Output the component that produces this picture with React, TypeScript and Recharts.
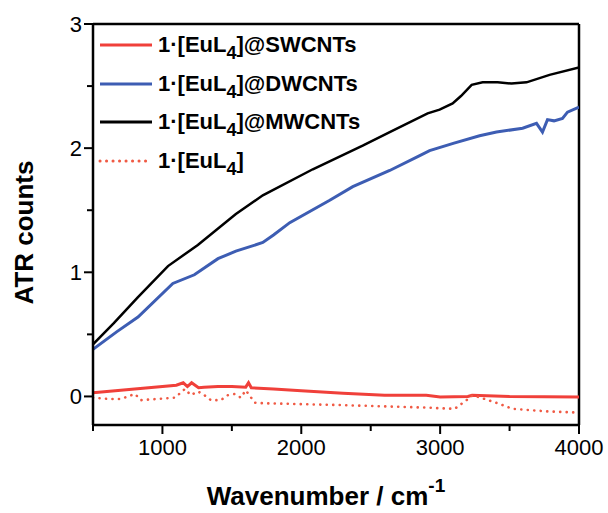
import { LineChart, Line, XAxis, YAxis, Legend, ReferenceLine } from "recharts"

// wavenumbers (cm-1) and ATR counts, one pair of arrays per sample
const mwX = [500, 650, 824, 1040, 1255, 1529, 1723, 2083, 2442, 2637, 2910, 2996, 3090, 3150, 3227, 3306, 3414, 3514, 3622, 3788, 4000]
const mwY = [0.42, 0.59, 0.8, 1.05, 1.22, 1.47, 1.62, 1.83, 2.02, 2.13, 2.28, 2.31, 2.36, 2.42, 2.51, 2.53, 2.53, 2.52, 2.53, 2.59, 2.65]

const dwX = [500, 670, 824, 1075, 1230, 1400, 1529, 1723, 1800, 1917, 2205, 2371, 2637, 2853, 2924, 3100, 3284, 3406, 3594, 3694, 3737, 3773, 3820, 3881, 3917, 4000]
const dwY = [0.38, 0.52, 0.64, 0.91, 0.98, 1.11, 1.17, 1.24, 1.3, 1.4, 1.58, 1.69, 1.82, 1.94, 1.98, 2.04, 2.1, 2.13, 2.16, 2.2, 2.13, 2.23, 2.22, 2.24, 2.29, 2.33]

const swX = [500, 800, 1100, 1150, 1180, 1210, 1260, 1300, 1400, 1500, 1600, 1620, 1640, 1800, 2000, 2300, 2600, 2900, 3000, 3200, 3230, 3500, 4000]
const swY = [0.03, 0.06, 0.09, 0.11, 0.08, 0.11, 0.07, 0.075, 0.08, 0.08, 0.075, 0.11, 0.07, 0.06, 0.045, 0.025, 0.01, 0.01, -0.005, 0.0, 0.01, 0.0, -0.005]

const euX = [500, 608, 701, 802, 845, 1090, 1162, 1205, 1255, 1291, 1349, 1420, 1471, 1522, 1565, 1600, 1665, 1737, 2300, 2900, 3104, 3190, 3234, 3320, 3428, 3522, 3766, 4000]
const euY = [-0.01, -0.02, -0.02, 0.02, -0.03, -0.01, 0.06, 0.01, 0.04, 0.02, -0.03, -0.03, 0.01, 0.02, -0.01, 0.05, -0.05, -0.055, -0.07, -0.09, -0.1, -0.03, 0.01, -0.02, -0.06, -0.1, -0.12, -0.13]

const xTicks = [500, 1000, 1500, 2000, 2500, 3000, 3500, 4000]
const yTicks = [0, 0.5, 1, 1.5, 2, 2.5, 3]

const toRows = (xs: number[], ys: number[]) => xs.map((x, i) => ({ x, y: ys[i] }))

const RED = "#f0403a"
const BLUE = "#3d5db3"
const FONT = "'Liberation Sans', Arial, sans-serif"

const series = [
  { name: "SWCNTs", label: "@SWCNTs", data: toRows(swX, swY), color: RED, width: 3, dash: undefined },
  { name: "DWCNTs", label: "@DWCNTs", data: toRows(dwX, dwY), color: BLUE, width: 3, dash: undefined },
  { name: "MWCNTs", label: "@MWCNTs", data: toRows(mwX, mwY), color: "#000", width: 2.5, dash: undefined },
  { name: "EuL4", label: "", data: toRows(euX, euY), color: "#f05a44", width: 2.6, dash: "0.1 6.4" },
]

const XTick = ({ x, y, payload }: any) => {
  const v = payload.value
  const major = v % 1000 === 0
  const top = y - 11
  return (
    <g>
      <line x1={x} x2={x} y1={top} y2={top + (major ? 9 : 6)} stroke="#000" strokeWidth={2} />
      {major && v !== 500 && (
        <text x={x} y={y + 19} textAnchor="middle" fontSize={22} fontFamily={FONT} fill="#000">
          {v}
        </text>
      )}
    </g>
  )
}

const YTick = ({ x, y, payload }: any) => {
  const v = payload.value
  const major = Number.isInteger(v)
  const right = x + 11
  return (
    <g>
      <line x1={right - (major ? 9 : 6)} x2={right} y1={y} y2={y} stroke="#000" strokeWidth={2} />
      {major && (
        <text x={x} y={y + 8} textAnchor="end" fontSize={22} fontFamily={FONT} fill="#000">
          {v}
        </text>
      )}
    </g>
  )
}

const LegendBox = () => (
  <div style={{ fontFamily: FONT, fontWeight: "bold", fontSize: 22, color: "#000" }}>
    {series.map((s) => (
      <div key={s.name} style={{ display: "flex", alignItems: "center", height: 38.5, whiteSpace: "nowrap" }}>
        <svg width={56} height={10} style={{ marginRight: 4 }}>
          <line
            x1={2}
            x2={54}
            y1={5}
            y2={5}
            stroke={s.color}
            strokeWidth={3}
            strokeDasharray={s.dash}
            strokeLinecap={s.dash ? "round" : "butt"}
          />
        </svg>
        <span>
          1·[EuL<span style={{ fontSize: 18, position: "relative", top: 7 }}>4</span>]{s.label}
        </span>
      </div>
    ))}
  </div>
)

const YLabel = ({ viewBox }: any) => {
  const cx = viewBox.x + 33
  const cy = viewBox.y + viewBox.height / 2 + 8
  return (
    <text x={cx} y={cy} transform={`rotate(-90 ${cx} ${cy})`} textAnchor="middle" fontSize={26} fontWeight="bold" fontFamily={FONT} fill="#000">
      ATR counts
    </text>
  )
}

const XLabel = ({ viewBox }: any) => (
  <text x={viewBox.x + viewBox.width / 2 - 10} y={viewBox.y + 80} textAnchor="middle" fontSize={26} fontWeight="bold" fontFamily={FONT} fill="#000">
    Wavenumber / cm
    <tspan fontSize={19} dy={-13}>-1</tspan>
  </text>
)

export default function App() {
  return (
    <div style={{ position: "absolute", left: 0, top: 0, background: "#fff" }}>
      <LineChart width={608} height={513} margin={{ top: 24, right: 29, left: 0, bottom: 0 }}>
        <XAxis
          type="number"
          dataKey="x"
          domain={[500, 4000]}
          ticks={xTicks}
          allowDataOverflow
          height={88}
          tickSize={9}
          tickMargin={2}
          tickLine={false}
          tick={<XTick />}
          axisLine={{ stroke: "#000", strokeWidth: 2.5 }}
          label={<XLabel />}
        />
        <YAxis
          type="number"
          dataKey="y"
          domain={[-0.23, 3]}
          ticks={yTicks}
          allowDataOverflow
          width={93}
          tickSize={9}
          tickMargin={2}
          tickLine={false}
          tick={<YTick />}
          axisLine={{ stroke: "#000", strokeWidth: 2.5 }}
          label={<YLabel />}
        />
        <ReferenceLine y={3} stroke="#000" strokeWidth={2.5} />
        <ReferenceLine x={4000} stroke="#000" strokeWidth={2.5} />
        {series.map((s) => (
          <Line
            key={s.name}
            data={s.data}
            dataKey="y"
            name={s.name}
            type="linear"
            stroke={s.color}
            strokeWidth={s.width}
            strokeDasharray={s.dash}
            strokeLinecap={s.dash ? "round" : "butt"}
            dot={false}
            isAnimationActive={false}
          />
        ))}
        <Legend
          layout="vertical"
          align="center"
          verticalAlign="middle"
          content={<LegendBox />}
          wrapperStyle={{ position: "absolute", left: 98, top: 26, width: "auto", height: "auto" }}
        />
      </LineChart>
    </div>
  )
}
